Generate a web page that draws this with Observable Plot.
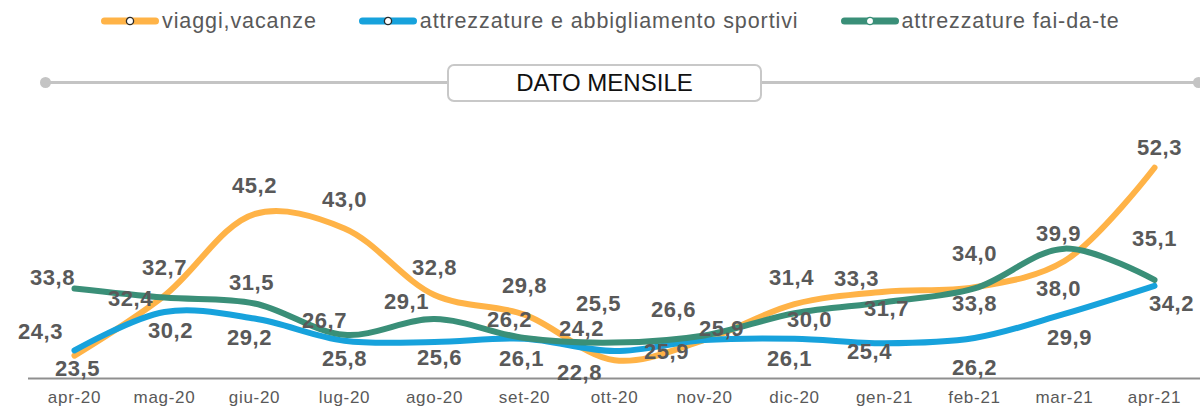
<!DOCTYPE html>
<html>
<head>
<meta charset="utf-8">
<script src="https://cdn.jsdelivr.net/npm/d3@7"></script>
<script src="https://cdn.jsdelivr.net/npm/@observablehq/plot@0.6"></script>
<style>
  html, body { margin: 0; padding: 0; background: #fff; }
  body { width: 1200px; height: 410px; overflow: hidden; font-family: "Liberation Sans", Arial, sans-serif; }
  #header { position: relative; width: 1200px; height: 110px; }
  #legend { position: absolute; top: 8px; left: 101px; display: flex; align-items: center; height: 26px; }
  .item { display: flex; align-items: center; margin-right: 42px; }
  .item svg { display: block; margin-right: 3px; }
  .item span { font-size: 21.5px; letter-spacing: 0.9px; color: #595959; line-height: 26px; white-space: nowrap; }
  .hline { position: absolute; top: 81px; height: 2.5px; background: #c4c4c4; }
  .dot { position: absolute; width: 11px; height: 11px; border-radius: 50%; background: #c4c4c4; top: 76.5px; }
  #box { position: absolute; left: 447px; top: 64px; width: 311px; height: 34px; border: 2px solid #c8c8c8; border-radius: 7px; background: #fff;
         display: flex; align-items: center; justify-content: center; font-size: 24px; color: #111; }
  #chart svg { display: block; }
  g[aria-label="text"] text { letter-spacing: 0.6px; }
  g[aria-label="x-axis tick label"] { font-size: 17px; }
  g[aria-label="x-axis tick label"] text { letter-spacing: 0.7px; }
</style>
</head>
<body>
<div id="header">
  <div id="legend"></div>
  <div class="hline" style="left:45px;width:402px"></div>
  <div class="dot" style="left:39.5px"></div>
  <div class="hline" style="left:762px;width:436px"></div>
  <div class="dot" style="left:1192.5px"></div>
  <div id="box">DATO MENSILE</div>
</div>
<div id="chart"></div>
<script>
// ---- data ----
const months = ["apr-20","mag-20","giu-20","lug-20","ago-20","set-20","ott-20","nov-20","dic-20","gen-21","feb-21","mar-21","apr-21"];
const seriesNames = ["viaggi,vacanze", "attrezzature e abbigliamento sportivi", "attrezzature fai-da-te"];
const viaggi   = [23.5, 32.7, 45.2, 43.0, 32.8, 29.8, 22.8, 25.9, 31.4, 33.3, 34.0, 38.0, 52.3];
const sportivi = [24.3, 30.2, 29.2, 25.8, 25.6, 26.1, 24.2, 25.9, 26.1, 25.4, 26.2, 29.9, 34.2];
const faidate  = [33.8, 32.4, 31.5, 26.7, 29.1, 26.2, 25.5, 26.6, 30.0, 31.7, 33.8, 39.9, 35.1];
const yDomain = [20, 60];

// ---- styling / label placement (not data) ----
const colors = ["#FFB347", "#17A2DC", "#3A8F78"];
const viaggiLabelOffsets   = [[3,13],[0,-28],[0,-28],[0,-28],[0,-27],[0,-29],[-35,13],[-38,12],[-3,-26],[-28,-13],[0,-33],[-6,28],[5,-20]];
const sportiviLabelOffsets = [[-34,-18],[6,19],[-5,19],[0,18],[5,16],[-3,20],[-33,-22],[17,-11],[-5,20],[-15,9],[0,30],[5,24],[17,18]];
const faidateLabelOffsets  = [[-22,-11],[-34,1],[-3,-21],[-20,-14],[-28,-17],[-15,-18],[-16,-39],[-31,-25],[15,7],[2,7],[0,15],[-6,-15],[0,-41]];

const seriesValues = [viaggi, sportivi, faidate];
const seriesOffsets = [viaggiLabelOffsets, sportiviLabelOffsets, faidateLabelOffsets];

const rows = [];
seriesNames.forEach((name, s) => {
  months.forEach((m, i) => {
    rows.push({series: name, month: m, value: seriesValues[s][i], off: seriesOffsets[s][i]});
  });
});

const fmt = v => v.toFixed(1).replace(".", ",");

// ---- legend ----
const legend = document.getElementById("legend");
seriesNames.forEach((name, s) => {
  const item = document.createElement("div");
  item.className = "item";
  const ring = s === 2 ? colors[2] : "#2b2b2b";
  item.innerHTML = `<svg width="58" height="12"><line x1="3.5" y1="6" x2="54.5" y2="6" stroke="${colors[s]}" stroke-width="7" stroke-linecap="round"/><circle cx="29" cy="6" r="3.6" fill="#fff" stroke="${ring}" stroke-width="1.3"/></svg><span>${name}</span>`;
  legend.appendChild(item);
});

// ---- chart ----
const labelMarks = rows.map(d => Plot.text([d], {
  x: "month", y: "value", text: r => fmt(r.value),
  dx: d.off[0], dy: d.off[1],
  fontSize: 22, fontWeight: "bold", fill: "#595959"
}));

const chart = Plot.plot({
  width: 1200,
  height: 300,
  marginTop: 7,
  marginBottom: 32,
  marginLeft: 72,
  marginRight: 45,
  style: {fontFamily: "Liberation Sans, Arial, sans-serif", color: "#595959", background: "transparent"},
  x: {type: "point", domain: months, padding: 0},
  y: {domain: yDomain, axis: null},
  color: {domain: seriesNames, range: colors},
  marks: [
    Plot.ruleY([yDomain[0]], {stroke: "#8f8f8f", strokeWidth: 2, insetLeft: -44, insetRight: -45}),
    Plot.line(rows, {x: "month", y: "value", z: "series", stroke: "series", strokeWidth: 6, curve: "catmull-rom", strokeLinecap: "round", strokeLinejoin: "round"}),
    Plot.axisX({tickSize: 0, tickPadding: 12, fontSize: 17, fill: "#595959", label: null}),
    ...labelMarks
  ]
});
document.getElementById("chart").appendChild(chart);
</script>
</body>
</html>
